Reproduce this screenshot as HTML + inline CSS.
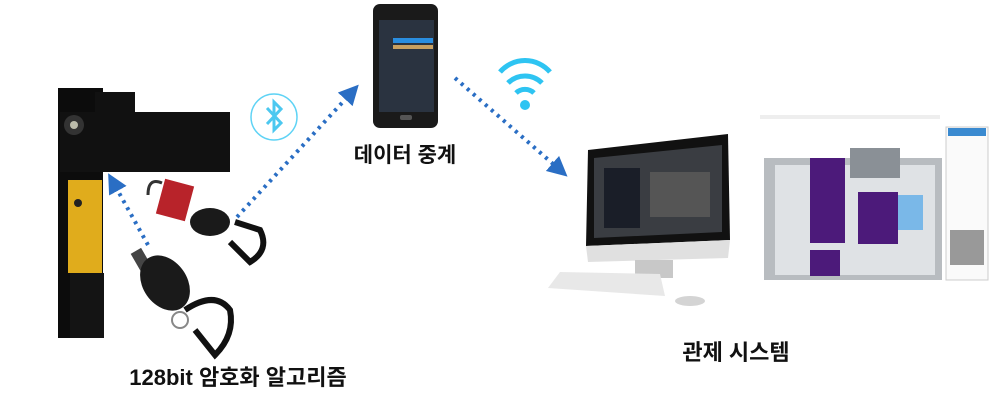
<!DOCTYPE html>
<html><head><meta charset="utf-8"><style>
body{margin:0;background:#fff;width:1000px;height:416px;overflow:hidden}
svg{display:block}
text{font-family:"Liberation Sans","Noto Sans CJK KR",sans-serif;font-weight:bold;fill:#111}
</style></head><body>
<svg width="1000" height="416" viewBox="0 0 1000 416">
<defs>
<marker id="ar" viewBox="0 0 10 10" refX="5" refY="5" markerWidth="5" markerHeight="5" orient="auto"><path d="M0,0L10,5L0,10z" fill="#2a6ec4"/></marker>
</defs>
<rect x="58" y="88" width="45" height="250" fill="#0c0c0c"/>
<rect x="60" y="112" width="170" height="60" fill="#111"/>
<rect x="95" y="92" width="40" height="22" fill="#111"/>
<circle cx="74" cy="125" r="10" fill="#333"/><circle cx="74" cy="125" r="4" fill="#bba"/>
<rect x="68" y="180" width="34" height="93" fill="#e0ac1c"/>
<circle cx="78" cy="203" r="4" fill="#222"/>
<rect x="70" y="273" width="34" height="65" fill="#141414"/>
<path d="M148,195 q0,-18 14,-12" stroke="#333" stroke-width="3" fill="none"/>
<rect x="160" y="182" width="30" height="36" fill="#b8232a" transform="rotate(15 175 200)"/>
<ellipse cx="210" cy="222" rx="20" ry="14" fill="#1a1a1a"/>
<path d="M235,222 l25,8 q10,20 -10,32 l-20,-20" stroke="#111" stroke-width="6" fill="none"/>
<rect x="135" y="250" width="12" height="25" fill="#444" transform="rotate(-30 140 260)"/>
<ellipse cx="165" cy="283" rx="22" ry="30" fill="#1a1a1a" transform="rotate(-35 165 283)"/>
<path d="M185,310 q30,-20 45,0 q5,25 -15,45 l-20,-25" stroke="#111" stroke-width="6" fill="none"/>
<circle cx="180" cy="320" r="8" stroke="#888" stroke-width="2" fill="none"/>
<circle cx="274" cy="117" r="23" fill="none" stroke="#5fd3f5" stroke-width="1.5"/>
<path d="M267,108 L281,123 L274,130 L274,102 L281,109 L267,124" stroke="#4cc8f0" stroke-width="3" fill="none"/>
<line x1="237" y1="217" x2="352" y2="92" stroke="#2a6ec4" stroke-width="4" stroke-dasharray="3 5" marker-end="url(#ar)"/>
<line x1="148" y1="245" x2="113" y2="182" stroke="#2a6ec4" stroke-width="4" stroke-dasharray="3 5" marker-end="url(#ar)"/>
<line x1="455" y1="78" x2="560" y2="170" stroke="#2a6ec4" stroke-width="4" stroke-dasharray="3 5" marker-end="url(#ar)"/>
<rect x="373" y="4" width="65" height="124" rx="7" fill="#1a1a1a"/>
<rect x="379" y="20" width="55" height="92" fill="#2a3340"/>
<rect x="393" y="38" width="40" height="5" fill="#2a8ee0"/>
<rect x="393" y="45" width="40" height="4" fill="#c9a060"/>
<rect x="400" y="115" width="12" height="5" rx="2" fill="#555"/>
<text x="405" y="162" font-size="21" text-anchor="middle">데이터 중계</text>
<path d="M500,72 a33,33 0 0 1 50,0" stroke="#2ec4f2" stroke-width="5" fill="none"/>
<path d="M508,83 a24,24 0 0 1 34,0" stroke="#2ec4f2" stroke-width="5" fill="none"/>
<path d="M516,93 a13,13 0 0 1 18,0" stroke="#2ec4f2" stroke-width="5" fill="none"/>
<circle cx="525" cy="105" r="5" fill="#2ec4f2"/>
<path d="M588,150 L728,134 L730,240 L586,246 Z" fill="#111"/>
<path d="M594,158 L722,145 L722,232 L594,238 Z" fill="#3a3d42"/>
<rect x="604" y="168" width="36" height="60" fill="#1a1e28"/>
<rect x="650" y="172" width="60" height="45" fill="#555"/>
<path d="M586,246 L730,240 L728,258 L588,262 Z" fill="#e0e0e0"/>
<rect x="635" y="260" width="38" height="18" fill="#c8c8c8"/>
<path d="M548,288 L560,272 L660,274 L665,296 Z" fill="#e8e8e8"/>
<ellipse cx="690" cy="301" rx="15" ry="5" fill="#d4d4d4"/>
<rect x="760" y="115" width="180" height="4" fill="#eee"/>
<rect x="764" y="158" width="178" height="122" fill="#b8bcc0"/>
<rect x="775" y="165" width="160" height="110" fill="#dfe2e5"/>
<rect x="810" y="158" width="35" height="85" fill="#4c1a7a"/>
<rect x="858" y="192" width="40" height="52" fill="#4c1a7a"/>
<rect x="810" y="250" width="30" height="26" fill="#4c1a7a"/>
<rect x="850" y="148" width="50" height="30" fill="#8a9096"/>
<rect x="898" y="195" width="25" height="35" fill="#7ab8e8"/>
<rect x="946" y="127" width="42" height="153" fill="#fafafa" stroke="#ccc"/>
<rect x="948" y="128" width="38" height="8" fill="#3a8ad0"/>
<rect x="950" y="230" width="34" height="35" fill="#999"/>
<text x="736" y="360" font-size="22" text-anchor="middle">관제 시스템</text>
<text x="238" y="385" font-size="22" text-anchor="middle">128bit 암호화 알고리즘</text>
</svg>
</body></html>
